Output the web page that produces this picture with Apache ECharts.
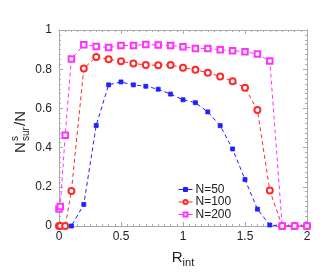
<!DOCTYPE html>
<html><head><meta charset="utf-8">
<script src="https://cdn.jsdelivr.net/npm/echarts@6/dist/echarts.min.js"></script>
<style>html,body{margin:0;padding:0;background:#fff}#c{width:327px;height:273px}</style>
</head><body><div id="c"></div>
<script>
var xs = [0, 0.01, 0.05, 0.1, 0.2, 0.3, 0.4, 0.5, 0.6, 0.7, 0.8, 0.9, 1.0, 1.1, 1.2, 1.3, 1.4, 1.5, 1.6, 1.7, 1.8, 1.9, 2.0];
var n50 = [0, 0, 0, 0, 0.11, 0.513, 0.72, 0.735, 0.72, 0.713, 0.698, 0.673, 0.644, 0.629, 0.582, 0.512, 0.393, 0.237, 0.086, 0.005, 0, 0, 0];
var n100 = [0, 0, 0, 0.178, 0.804, 0.862, 0.851, 0.84, 0.829, 0.822, 0.82, 0.822, 0.807, 0.797, 0.782, 0.763, 0.738, 0.705, 0.592, 0.181, 0, 0, 0];
var n200 = [0.087, 0.1, 0.463, 0.852, 0.925, 0.916, 0.911, 0.921, 0.921, 0.926, 0.923, 0.921, 0.914, 0.906, 0.906, 0.899, 0.894, 0.889, 0.877, 0.842, 0, 0, 0];
var seriesNames = ['N=50', 'N=100', 'N=200'];
var xTicks = [0, 0.5, 1, 1.5, 2];
var yTicks = [0, 0.2, 0.4, 0.6, 0.8, 1];

function pairs(ys){ return xs.map(function(x,i){ return [x, ys[i]]; }); }
var FONT = '"Liberation Sans", Arial, sans-serif';
var frameColor = '#aaaaaa';
function fmt(v){ return String(Math.round(v*10)/10); }

var chart = echarts.init(document.getElementById('c'), null, {renderer:'canvas'});
var axisCommon = {
  axisLine:{show:true, onZero:false, lineStyle:{color:frameColor, width:1}},
  axisTick:{show:true, inside:true, length:4, lineStyle:{color:frameColor}},
  minorTick:{show:true, length:2, lineStyle:{color:frameColor}},
  splitLine:{show:false}
};
function mk(type, extra){ return Object.assign({}, JSON.parse(JSON.stringify(axisCommon)), extra); }

chart.setOption({
  animation:false,
  grid:{left:59, right:20, top:30, bottom:44, containLabel:false},
  xAxis:[
    mk('x',{type:'value', min:0, max:2, interval:0.5, position:'bottom',
      minorTick:{show:true, splitNumber:10, length:2, lineStyle:{color:frameColor}},
      axisLabel:{show:true, color:'#222', fontSize:12, fontFamily:FONT, margin:5, formatter:fmt},
      name:'R{sub|int}', nameLocation:'middle', nameGap:22,
      nameTextStyle:{color:'#222', fontSize:15, fontFamily:FONT,
        rich:{sub:{fontSize:11, fontFamily:FONT, color:'#222', padding:[9,0,0,0]}}}}),
    mk('x',{type:'value', min:0, max:2, interval:0.5, position:'top',
      minorTick:{show:true, splitNumber:10, length:2, lineStyle:{color:frameColor}},
      axisLabel:{show:false}})
  ],
  yAxis:[
    mk('y',{type:'value', min:0, max:1, interval:0.2, position:'left',
      minorTick:{show:true, splitNumber:8, length:2, lineStyle:{color:frameColor}},
      axisLabel:{show:true, color:'#222', fontSize:12, fontFamily:FONT, margin:7, formatter:fmt}}),
    mk('y',{type:'value', min:0, max:1, interval:0.2, position:'right',
      minorTick:{show:true, splitNumber:8, length:2, lineStyle:{color:frameColor}},
      axisLabel:{show:false}})
  ],
  legend:{
    left:178, top:183.5, orient:'vertical', itemWidth:14, itemHeight:5, itemGap:0.5, padding:0,
    textStyle:{fontSize:12, lineHeight:12, fontFamily:FONT, color:'#222', padding:[0,0,0,-2]},
    itemStyle:{borderWidth:1},
    lineStyle:{width:1, type:'solid'},
    data:seriesNames
  },
  graphic:[{
    type:'group', x:21, y:127, rotation:Math.PI/2,
    children:[
      {type:'text', x:-26, y:0, style:{text:'N', font:'15px '+FONT, fill:'#222', textVerticalAlign:'middle'}},
      {type:'text', x:-14, y:-6, style:{text:'s', font:'10px '+FONT, fill:'#222', textVerticalAlign:'middle'}},
      {type:'text', x:-14, y:5, style:{text:'sur', font:'10px '+FONT, fill:'#222', textVerticalAlign:'middle'}},
      {type:'text', x:1, y:0, style:{text:'/N', font:'15px '+FONT, fill:'#222', textVerticalAlign:'middle'}}
    ]
  }],
  series:[
    {name:seriesNames[0], type:'line', data:pairs(n50), clip:false,
      symbol:'rect', symbolSize:4, color:'#1f1fff',
      itemStyle:{color:'#1f1fff', borderColor:'#1f1fff', borderWidth:0.8},
      lineStyle:{type:[4,3], width:1, color:'#1f1fff'}},
    {name:seriesNames[1], type:'line', data:pairs(n100), clip:false,
      symbol:'emptyCircle', symbolSize:6, color:'#ff2a2a',
      itemStyle:{color:'#ff2a2a', borderColor:'#ff2a2a', borderWidth:0.8},
      lineStyle:{type:[4,3], width:1, color:'#ff2a2a'}},
    {name:seriesNames[2], type:'line', data:pairs(n200), clip:false,
      symbol:'emptyRect', symbolSize:5.5, color:'#ff33ff',
      itemStyle:{color:'#ff33ff', borderColor:'#ff33ff', borderWidth:0.8},
      lineStyle:{type:[4,3], width:1, color:'#ff33ff'}}
  ]
});
</script></body></html>
